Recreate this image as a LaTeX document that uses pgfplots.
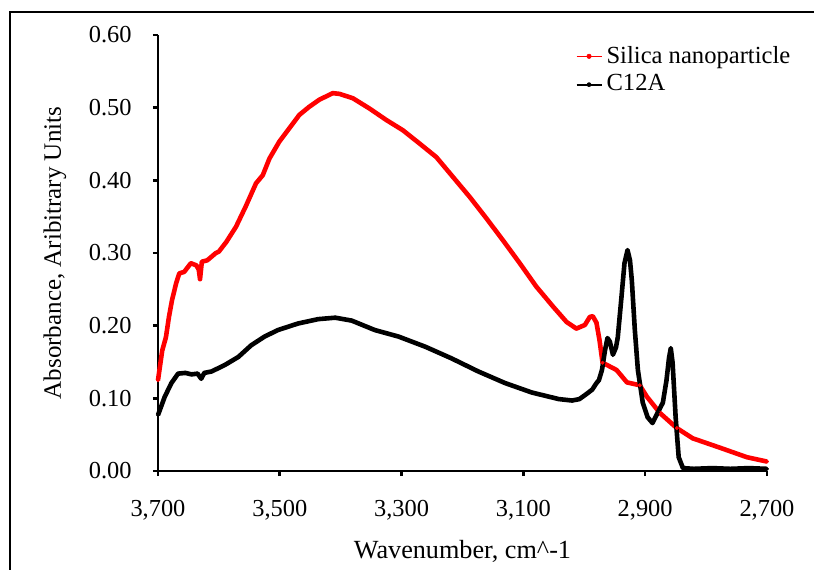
\documentclass[border=0pt]{standalone}
\usepackage{fontspec}
\setmainfont{Liberation Serif}
\usepackage{pgfplots}
\pgfplotsset{compat=1.18}
\begin{document}
\fontsize{12.2}{14}\selectfont
\begin{tikzpicture}
\useasboundingbox (0,0) rectangle (407pt,-284.5pt);
\clip (0,0) rectangle (407pt,-284.5pt);
\draw[line width=1.1pt] (5pt,-6pt) rectangle (430pt,-300pt);
\begin{axis}[
  at={(79pt,-235.5pt)}, anchor=south west,
  scale only axis, width=304.5pt, height=218pt,
  xmin=2700, xmax=3700, x dir=reverse,
  ymin=0, ymax=0.6,
  axis x line*=bottom, axis y line*=left,
  axis line style={line width=1.3pt,-},
  xtick={2700,2900,3100,3300,3500,3700},
  ytick={0,0.1,0.2,0.3,0.4,0.5,0.6},
  tick align=outside, major tick length=2.5pt,
  tick style={line width=1.3pt, black},
  /pgf/number format/assume math mode=true,
  xticklabel style={/pgf/number format/1000 sep={,}, anchor=base, inner sep=0pt, yshift=-20pt},
  yticklabel style={/pgf/number format/fixed, /pgf/number format/fixed zerofill, /pgf/number format/precision=2, anchor=east, inner sep=0pt, xshift=-10.5pt},
  scaled y ticks=false,
  xlabel={Wavenumber, cm\textasciicircum-1},
  ylabel={Absorbance, Aribitrary Units},
  every axis x label/.style={at={(axis description cs:0.5,0)}, anchor=base, yshift=-43.5pt, font=\fontsize{13.1}{15}\selectfont},
  every axis y label/.style={at={([xshift=-51.5pt]axis description cs:0,0.5)}, anchor=center, rotate=90, font=\fontsize{12.5}{15}\selectfont},
  legend style={at={(axis description cs:0.685,0.985)}, anchor=north west, draw=none, fill=none, inner sep=0pt, row sep=0pt, font=\fontsize{12.3}{14}\selectfont},
  legend cell align=left,
  legend image code/.code={\draw[mark repeat=2,mark phase=2,#1] plot coordinates {(0pt,0pt) (6.25pt,0pt) (12.5pt,0pt)};},
  clip=false,
]
\addlegendimage{red, line width=0.5pt, mark=*, mark size=1.1pt, mark options={line width=0.3pt}}
\addlegendentry{Silica nanoparticle}
\addlegendimage{black, line width=1pt, mark=*, mark size=1pt, mark options={line width=0.3pt}}
\addlegendentry{C12A}
\addplot[red, line width=2.3pt, mark=*, mark size=0.9pt, mark options={line width=0.2pt}, line join=round, forget plot] coordinates {
(3700,0.125) (3693,0.166) (3687,0.184) (3682,0.212) (3677,0.235) (3670,0.259) (3665,0.272) (3657,0.274) (3646,0.286) (3637,0.283) (3633,0.277) (3631,0.264) (3628,0.288) (3619,0.290) (3605,0.300) (3600,0.302) (3588,0.315) (3572,0.336) (3556,0.364) (3539,0.396) (3528,0.407) (3517,0.430) (3501,0.453) (3484,0.472) (3468,0.490) (3452,0.501) (3435,0.511) (3413,0.520) (3402,0.519) (3380,0.513) (3353,0.499) (3325,0.483) (3298,0.469) (3271,0.451) (3243,0.432) (3216,0.405) (3188,0.377) (3161,0.348) (3134,0.318) (3106,0.286) (3079,0.254) (3051,0.226) (3029,0.205) (3013,0.196) (2999,0.201) (2991,0.212) (2986,0.213) (2980,0.204) (2975,0.180) (2970,0.149) (2963,0.146) (2947,0.139) (2930,0.122) (2909,0.118) (2897,0.102) (2876,0.080) (2848,0.059) (2822,0.045) (2777,0.032) (2733,0.019) (2700,0.013)
};
\addplot[black, line width=2.3pt, mark=*, mark size=0.9pt, mark options={line width=0.2pt}, line join=round, forget plot] coordinates {
(3700,0.077) (3689,0.102) (3678,0.121) (3667,0.134) (3655,0.135) (3645,0.133) (3635,0.134) (3629,0.127) (3624,0.135) (3612,0.137) (3590,0.146) (3568,0.157) (3547,0.173) (3525,0.185) (3503,0.194) (3470,0.203) (3437,0.209) (3409,0.211) (3382,0.207) (3344,0.194) (3305,0.185) (3261,0.171) (3218,0.155) (3174,0.137) (3130,0.121) (3086,0.108) (3042,0.099) (3020,0.097) (3008,0.099) (2998,0.105) (2987,0.112) (2980,0.121) (2976,0.125) (2971,0.139) (2966,0.166) (2962,0.183) (2958,0.178) (2953,0.160) (2948,0.170) (2945,0.184) (2939,0.239) (2934,0.286) (2929,0.304) (2925,0.290) (2922,0.263) (2917,0.194) (2912,0.139) (2904,0.094) (2896,0.074) (2888,0.066) (2879,0.081) (2871,0.094) (2865,0.125) (2861,0.155) (2858,0.169) (2855,0.149) (2850,0.074) (2845,0.019) (2838,0.004) (2820,0.003) (2790,0.004) (2760,0.003) (2730,0.004) (2700,0.003)
};
\end{axis}
\end{tikzpicture}
\end{document}
